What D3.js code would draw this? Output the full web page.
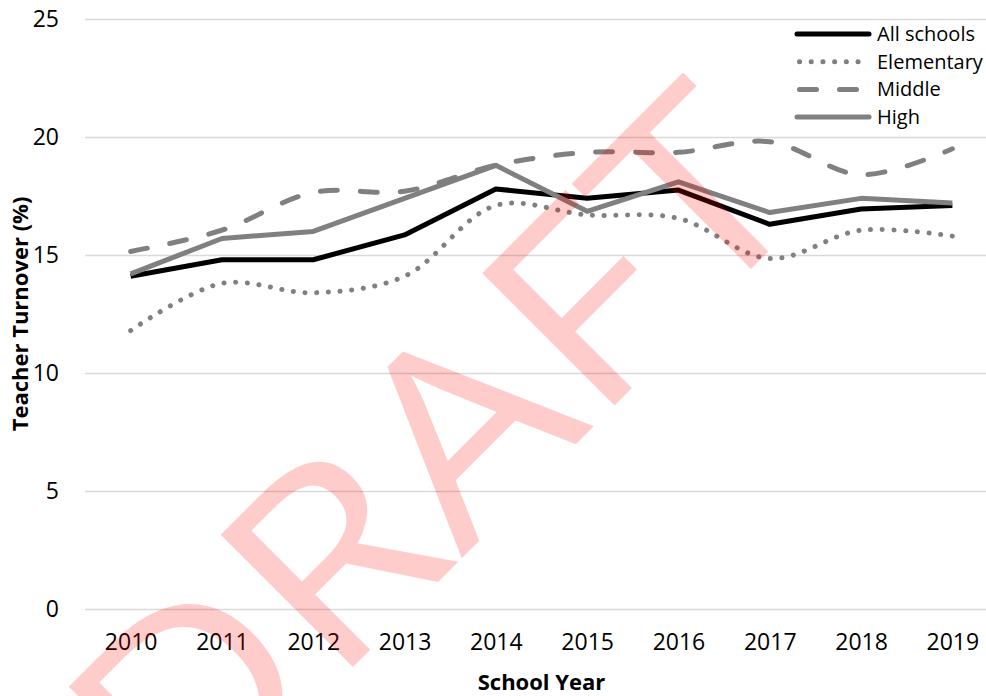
<!DOCTYPE html>
<html>
<head>
<meta charset="utf-8">
<script src="https://cdn.jsdelivr.net/npm/d3@7"></script>
<style>
  body { margin: 0; background: #fff; }
  svg { display: block; font-family: "Open Sans", "Noto Sans", sans-serif; }
</style>
</head>
<body>
<div id="chart"></div>
<script>
// data
const years = ["2010", "2011", "2012", "2013", "2014", "2015", "2016", "2017", "2018", "2019"];
const allSchools = [14.1, 14.8, 14.8, 15.85, 17.8, 17.4, 17.75, 16.3, 16.95, 17.1];
const elementary = [11.8, 13.8, 13.4, 14.1, 17.1, 16.7, 16.55, 14.85, 16.05, 15.8];
const middle = [15.15, 16.05, 17.65, 17.7, 18.8, 19.35, 19.35, 19.8, 18.4, 19.5];
const high = [14.2, 15.7, 16.0, 17.4, 18.8, 16.85, 18.1, 16.8, 17.4, 17.2];
const yTicks = [0, 5, 10, 15, 20, 25];

const width = 986, height = 696;
const margin = {top: 19, right: -12, bottom: 87, left: 85};

const series = [
    {name: "All schools", values: allSchools, color: "#000", dash: null, smooth: false},
    {name: "Elementary", values: elementary, color: "#808080", dash: "0.1 11.6", smooth: true},
    {name: "Middle", values: middle, color: "#808080", dash: "17 23", smooth: true},
    {name: "High", values: high, color: "#808080", dash: null, smooth: false}
];

const svg = d3.select("#chart").append("svg")
    .attr("width", width)
    .attr("height", height);

const x = d3.scalePoint()
    .domain(years)
    .range([margin.left, width - margin.right])
    .padding(0.5);

const y = d3.scaleLinear()
    .domain([0, 25])
    .range([height - margin.bottom, margin.top]);

// gridlines + y labels
const yAxis = d3.axisLeft(y).tickValues(yTicks).tickSize(-(width - margin.right - margin.left)).tickPadding(26);
svg.append("g")
    .attr("transform", `translate(${margin.left},0)`)
    .call(yAxis)
    .call(g => g.select(".domain").remove())
    .call(g => g.selectAll(".tick line").attr("stroke", "#d9d9d9").attr("stroke-width", 1.5))
    .call(g => g.selectAll(".tick text").attr("fill", "#000").attr("font-size", 23).attr("font-family", "Open Sans"));

// x labels
const xAxis = d3.axisBottom(x).tickSize(0).tickPadding(25);
svg.append("g")
    .attr("transform", `translate(0,${y(0)})`)
    .call(xAxis)
    .call(g => g.select(".domain").remove())
    .call(g => g.selectAll(".tick text").attr("fill", "#000").attr("font-size", 23).attr("font-family", "Open Sans"));

// axis titles
svg.append("text")
    .attr("x", (margin.left + width - margin.right) / 2)
    .attr("y", 690)
    .attr("text-anchor", "middle")
    .attr("font-weight", "bold")
    .attr("font-size", 22)
    .text("School Year");

svg.append("text")
    .attr("transform", `translate(28,${(y(0) + y(25)) / 2}) rotate(-90)`)
    .attr("text-anchor", "middle")
    .attr("font-weight", "bold")
    .attr("font-size", 22)
    .text("Teacher Turnover (%)");

// lines
series.forEach(s => {
    const line = d3.line()
        .x((d, i) => x(years[i]))
        .y(d => y(d))
        .curve(s.smooth ? d3.curveCatmullRom.alpha(0.5) : d3.curveLinear);
    svg.append("path")
        .datum(s.values)
        .attr("fill", "none")
        .attr("stroke", s.color)
        .attr("stroke-width", 5)
        .attr("stroke-linecap", s.dash ? "round" : "butt")
        .attr("stroke-linejoin", "round")
        .attr("stroke-dasharray", s.dash)
        .attr("d", line);
});

// legend
const legend = svg.append("g").attr("transform", "translate(797,34)");
series.forEach((s, i) => {
    const row = legend.append("g").attr("transform", `translate(0,${i * 27.7})`);
    row.append("line")
        .attr("x1", s.dash ? 2.5 : 0).attr("x2", 72)
        .attr("stroke", s.color)
        .attr("stroke-width", 5)
        .attr("stroke-linecap", "round")
        .attr("stroke-dasharray", s.dash);
    row.append("text")
        .attr("x", 80)
        .attr("dy", "0.35em")
        .attr("font-size", 20)
        .text(s.name);
});

// watermark
svg.append("text")
    .attr("transform", "translate(499,521) rotate(-45) scale(1.13,1)")
    .attr("text-anchor", "middle")
    .attr("font-size", 262)
    .attr("fill", "rgba(255,0,0,0.2)")
    .text("DRAFT");
</script>
</body>
</html>
